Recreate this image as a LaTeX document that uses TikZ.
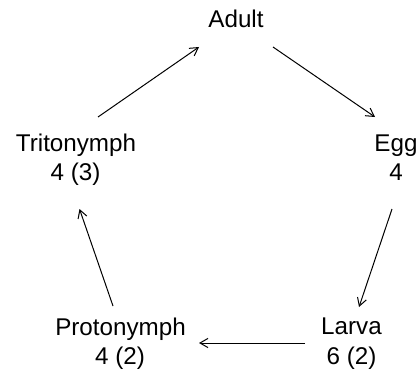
\documentclass[tikz,border=0pt]{standalone}
\usepackage{fontspec}
\setmainfont{Liberation Sans}
\usetikzlibrary{arrows.meta}
\begin{document}
\begin{tikzpicture}[x=0.5pt,y=-0.5pt,
  lbl/.style={anchor=base,inner sep=0pt,font=\fontsize{12.1}{14.5}\selectfont},
  conn/.style={line width=0.5pt,-{Straight Barb[length=4pt,width=4.6pt,line width=0.5pt]}}]
\useasboundingbox (0,0) rectangle (416,369);
\node[lbl] (adult) at (236,27.3) {Adult};
\node[lbl] (egg) at (396,151.7) {Egg};
\node[lbl] (eggn) at (396,180) {4};
\node[lbl] (larva) at (351.5,334) {Larva};
\node[lbl] (larvan) at (351.5,364) {6 (2)};
\node[lbl] (proto) at (120.5,335) {Protonymph};
\node[lbl] (proton) at (120,364.5) {4 (2)};
\node[lbl] (trito) at (76,151) {Tritonymph};
\node[lbl] (triton) at (75.5,180) {4 (3)};
\draw[conn] ([shift={(37,19.7)}]adult.base) -- ([shift={(-21,-34.7)}]egg.base);
\draw[conn] ([shift={(-4,29)}]eggn.base) -- ([shift={(7.5,-27)}]larva.base);
\draw[conn] ([shift={(-46.5,9)}]larva.base) -- ([shift={(78.5,8)}]proto.base);
\draw[conn] ([shift={(-7.5,-29)}]proto.base) -- ([shift={(4,29)}]triton.base);
\draw[conn] ([shift={(22,-34)}]trito.base) -- ([shift={(-37,19.7)}]adult.base);
\end{tikzpicture}
\end{document}
